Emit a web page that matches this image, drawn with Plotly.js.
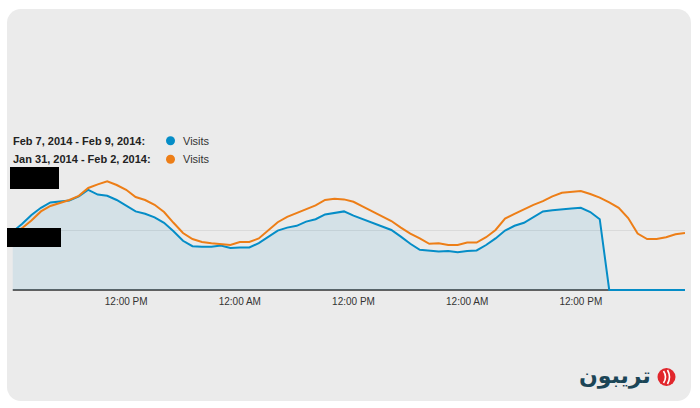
<!DOCTYPE html>
<html>
<head>
<meta charset="utf-8">
<script src="https://cdn.plot.ly/plotly-3.0.1.min.js"></script>
<style>
  html, body { margin: 0; padding: 0; background: #ffffff; }
  #panel { position: absolute; left: 7px; top: 9px; width: 684px; height: 392px; background: #ebebeb; border-radius: 14px; }
  #chart { position: absolute; left: 0; top: 0; width: 700px; height: 408px; }
</style>
</head>
<body>
<div id="panel"></div>
<div id="chart"></div>
<script>
// Hour index over three days (0 = midnight of first day)
const hours = Array.from({length: 72}, (_, i) => i);

const tickHours = [12, 24, 36, 48, 60];
const tickLabels = ["12:00 PM", "12:00 AM", "12:00 PM", "12:00 AM", "12:00 PM"];

const seriesNames = ["Feb 7, 2014 - Feb 9, 2014:", "Jan 31, 2014 - Feb 2, 2014:"];
const metricName = "Visits";

// Feb 7 - Feb 9 visits (hourly)
const visitsFeb7 = [
  97, 110, 125, 137, 146, 148, 149, 156, 167, 159, 157, 150,
  140, 131, 127, 121, 112, 98, 82, 73, 72, 72, 74, 70,
  71, 71, 78, 88, 99, 104, 107, 114, 118, 126, 128, 131,
  124, 118, 112, 105, 100, 89, 77, 67, 66, 64, 65, 63,
  65, 66, 75, 86, 99, 107, 112, 122, 131, 133, 135, 136,
  137, 130, 118, 0, 0, 0, 0, 0, 0, 0, 0, 0
];

// Jan 31 - Feb 2 visits (hourly)
const visitsJan31 = [
  93, 103, 116, 131, 140, 145, 150, 157, 170, 176, 181, 175,
  167, 155, 150, 142, 130, 112, 95, 85, 80, 78, 77, 75,
  80, 80, 86, 99, 113, 122, 128, 134, 141, 150, 152, 151,
  147, 139, 131, 124, 115, 104, 94, 86, 77, 78, 75, 75,
  79, 79, 88, 100, 119, 127, 135, 142, 148, 156, 162, 163,
  165, 160, 154, 146, 137, 120, 94, 85, 85, 88, 93, 95
];

const blue = "#058dc7";
const orange = "#ed7e17";
const W = 700, H = 408;
const px = x => x / W;
const py = y => 1 - y / H;

const traces = [
  {
    x: hours, y: visitsFeb7, type: "scatter", mode: "lines",
    line: {color: blue, width: 2}, fill: "tozeroy",
    fillcolor: "rgba(5,141,199,0.1)",
    hoverinfo: "skip", showlegend: false
  },
  {
    x: hours, y: visitsJan31, type: "scatter", mode: "lines",
    line: {color: orange, width: 2},
    hoverinfo: "skip", showlegend: false
  }
];

function circle(cx, cy, r, color) {
  return {
    type: "circle", xref: "paper", yref: "paper",
    xsizemode: "pixel", ysizemode: "pixel",
    xanchor: px(cx), yanchor: py(cy),
    x0: -r, x1: r, y0: -r, y1: r,
    fillcolor: color, line: {width: 0}
  };
}
function rectPx(x0, y0, x1, y1, color) {
  return {
    type: "rect", xref: "paper", yref: "paper",
    x0: px(x0), x1: px(x1), y0: py(y1), y1: py(y0),
    fillcolor: color, line: {width: 0}, layer: "above"
  };
}
function arcPx(cx, cy, path, color, w) {
  return {
    type: "path", xref: "paper", yref: "paper",
    xsizemode: "pixel", ysizemode: "pixel",
    xanchor: px(cx), yanchor: py(cy),
    path: path, line: {color: color, width: w}
  };
}

// y range dips slightly below zero so the zero-level line is not clipped
const yMin = -3;

const layout = {
  width: W, height: H,
  margin: {l: 0, r: 0, t: 0, b: 0},
  paper_bgcolor: "rgba(0,0,0,0)",
  plot_bgcolor: "rgba(0,0,0,0)",
  showlegend: false,
  xaxis: {
    domain: [px(12.5), px(685)],
    range: [0, 71],
    tickvals: tickHours, ticktext: tickLabels,
    ticks: "", showgrid: false, zeroline: false,
    showline: false,
    ticklabelstandoff: 2,
    tickfont: {family: "Liberation Sans, Arial, sans-serif", size: 10, color: "#333333"},
    fixedrange: true
  },
  yaxis: {
    domain: [py(290 - yMin * 0.6), py(170)],
    range: [yMin, 200],
    tickvals: [100, 200],
    showticklabels: false,
    showgrid: true, gridcolor: "#dadada", gridwidth: 1,
    zeroline: false, showline: false, ticks: "",
    layer: "below traces",
    fixedrange: true
  },
  shapes: [
    {type: "line", xref: "x", yref: "y", x0: 0, x1: 71, y0: 0, y1: 0,
     line: {color: "#606060", width: 2}, layer: "below"},
    circle(170.5, 140.7, 4.5, blue),
    circle(170.5, 159.3, 4.5, orange),
    rectPx(10, 167, 59, 189, "#000000"),
    rectPx(7, 228, 61, 247, "#000000"),
    circle(666.5, 377, 9, "#e1262c"),
    arcPx(666.5, 377, "M -3,6 Q 1,0 -3,-6", "#ffffff", 1.6),
    arcPx(666.5, 377, "M 1,7 Q 5,0 1,-7", "#ffffff", 1.6)
  ],
  annotations: [
    {xref: "paper", yref: "paper", x: px(11), y: py(140.7), xanchor: "left", yanchor: "middle",
     text: seriesNames[0], showarrow: false,
     font: {family: "Liberation Sans, Arial, sans-serif", size: 11, color: "#222222", weight: "bold"}},
    {xref: "paper", yref: "paper", x: px(11), y: py(159.3), xanchor: "left", yanchor: "middle",
     text: seriesNames[1], showarrow: false,
     font: {family: "Liberation Sans, Arial, sans-serif", size: 11, color: "#222222", weight: "bold"}},
    {xref: "paper", yref: "paper", x: px(180.5), y: py(140.7), xanchor: "left", yanchor: "middle",
     text: metricName, showarrow: false,
     font: {family: "Liberation Sans, Arial, sans-serif", size: 11, color: "#333333"}},
    {xref: "paper", yref: "paper", x: px(180.5), y: py(159.3), xanchor: "left", yanchor: "middle",
     text: metricName, showarrow: false,
     font: {family: "Liberation Sans, Arial, sans-serif", size: 11, color: "#333333"}},
    {xref: "paper", yref: "paper", x: px(653), y: py(376), xanchor: "right", yanchor: "middle",
     text: "تریبون", showarrow: false,
     font: {family: "DejaVu Sans, sans-serif", size: 22, color: "#1b4557", weight: "bold"}}
  ]
};

Plotly.newPlot("chart", traces, layout, {displayModeBar: false, staticPlot: true});
</script>
</body>
</html>
